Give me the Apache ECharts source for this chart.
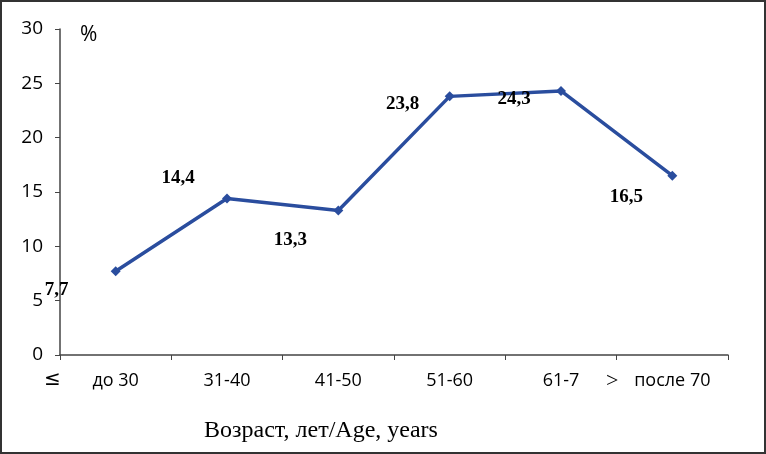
<!DOCTYPE html>
<html><head><meta charset="utf-8">
<script src="https://cdn.jsdelivr.net/npm/echarts@6/dist/echarts.min.js"></script>
<style>html,body{margin:0;padding:0;background:#fff}#c{width:766px;height:454px}</style>
</head><body><div id="c"></div>
<script>
const categories = ['до 30', '31-40', '41-50', '51-60', '61-7', 'после 70'];
const values = [7.7, 14.4, 13.3, 23.8, 24.3, 16.5];
const yTicks = [0, 5, 10, 15, 20, 25, 30];
const axisTitle = 'Возраст, лет/Age, years';
const unitLabel = '%';

const labelOffsets = [[-59, 19], [-49, -20], [-48, 30], [-47, 8], [-47, 8], [-46, 21]];

const chart = echarts.init(document.getElementById('c'));
chart.setOption({
  animation: false,
  grid: { left: 60, right: 38, top: 29, bottom: 99 },
  xAxis: {
    type: 'category', data: categories, boundaryGap: true,
    axisLine: { lineStyle: { color: '#444', width: 1.5 } },
    axisTick: { show: true, alignWithLabel: false, length: 5, inside: false, lineStyle: { color: '#444' } },
    axisLabel: { color: '#000', fontFamily: 'Open Sans', fontSize: 18, margin: 17 },
    name: axisTitle, nameLocation: 'middle', nameGap: 64,
    nameTextStyle: { fontFamily: 'Liberation Serif', fontSize: 24, color: '#000', padding: [0, 0, 0, -146] }
  },
  yAxis: {
    type: 'value', min: yTicks[0], max: yTicks[yTicks.length - 1], interval: 5,
    axisLine: { show: true, lineStyle: { color: '#444', width: 1.5 } },
    axisTick: { show: true, length: 5, lineStyle: { color: '#444' } },
    splitLine: { show: false },
    axisLabel: { color: '#000', fontFamily: 'Open Sans', fontSize: 19, margin: 17 }
  },
  graphic: [
    { type: 'rect', shape: { x: 1, y: 1, width: 764, height: 452 }, style: { fill: 'none', stroke: '#333', lineWidth: 2 } },
    { type: 'text', left: 80, top: 25, style: { text: unitLabel, fontFamily: 'Open Sans', fontSize: 21, fill: '#000' } },
    { type: 'text', left: 44, top: 370, style: { text: '≤', fontFamily: 'DejaVu Sans', fontSize: 20, fill: '#000' } },
    { type: 'text', left: 606, top: 370, style: { text: '>', fontFamily: 'Liberation Serif', fontSize: 22, fill: '#000' } }
  ],
  series: [{
    type: 'line', data: values.map((v, i) => ({ value: v, label: { offset: labelOffsets[i] } })),
    symbol: 'diamond', symbolSize: 10,
    lineStyle: { color: '#2a4d9e', width: 3.5 },
    itemStyle: { color: '#2a4d9e' },
    label: {
      show: true, position: 'inside',
      formatter: p => String(p.value).replace('.', ','),
      fontFamily: 'Liberation Serif', fontWeight: 'bold', fontSize: 19, color: '#000'
    }
  }]
});
</script></body></html>
